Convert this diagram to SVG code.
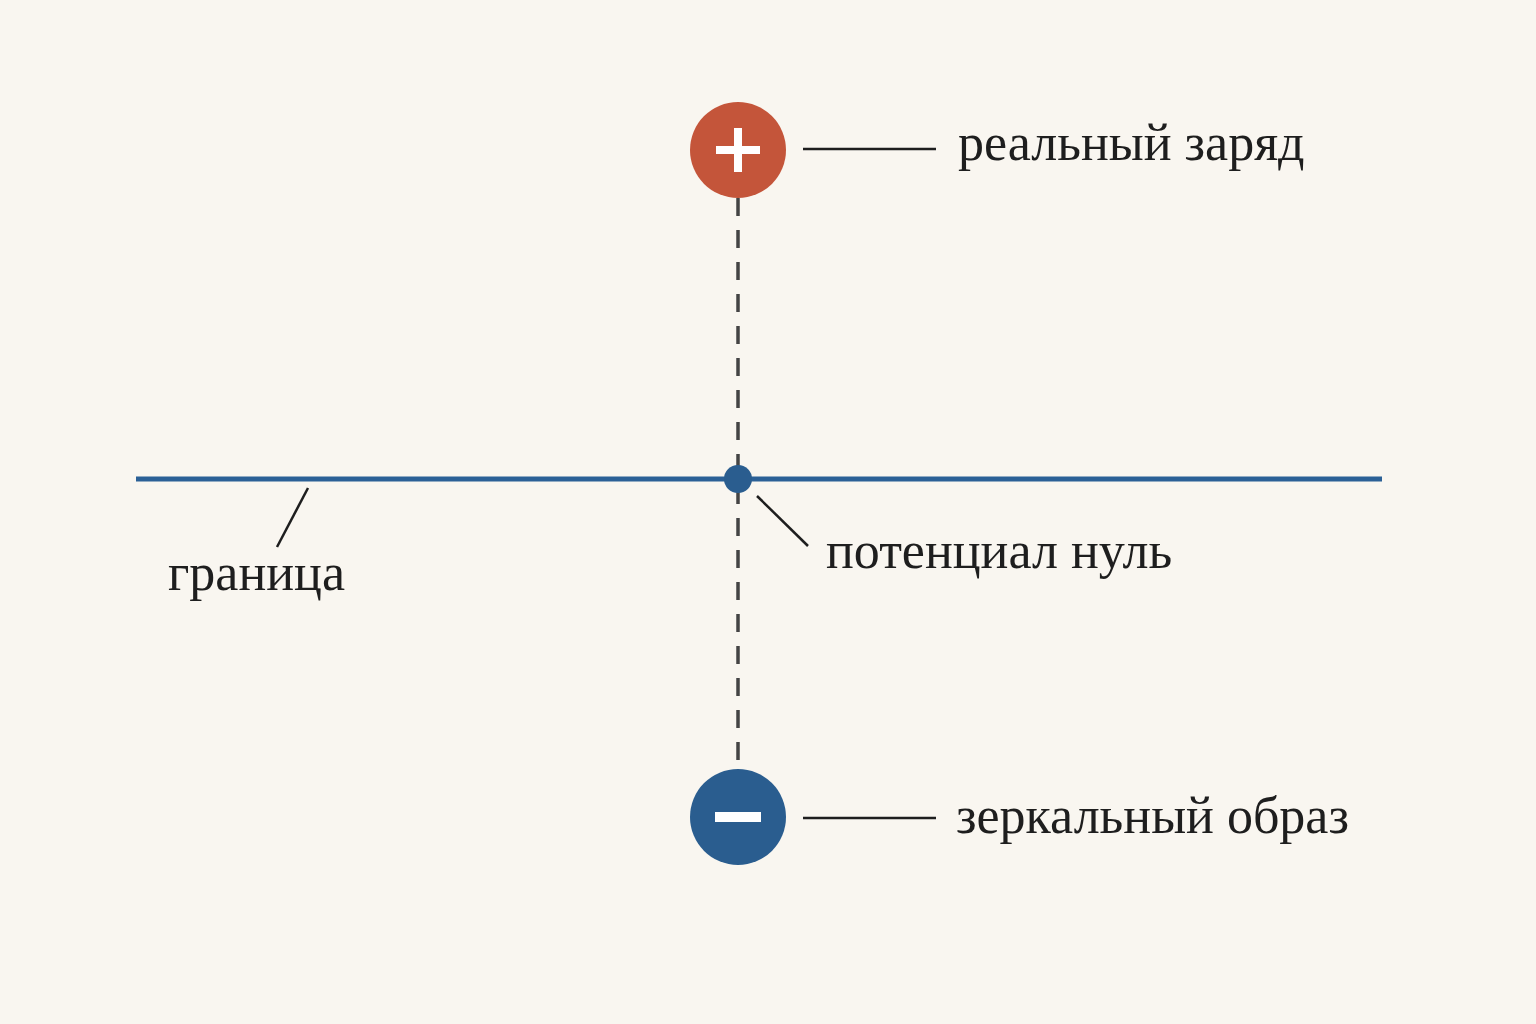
<svg xmlns="http://www.w3.org/2000/svg" width="1536" height="1024" viewBox="0 0 1536 1024">
<style>
.lbl{font-family:"Liberation Serif","Times New Roman",serif;font-size:52px;fill:#1e1e1e}
.lead{stroke:#1e1e1e;stroke-width:2.5;fill:none}
</style>
<rect width="1536" height="1024" fill="#f9f6f0"/>
<g id="connectors">
<line x1="738" y1="198" x2="738" y2="769" stroke="#444" stroke-width="3.5" stroke-dasharray="18 14"/>
<line class="lead" x1="803" y1="149" x2="936" y2="149"/>
<line class="lead" x1="803" y1="818" x2="936" y2="818"/>
<line class="lead" x1="757" y1="496" x2="808" y2="546"/>
<line class="lead" x1="308" y1="488" x2="277" y2="547"/>
</g>
<g id="boundary">
<line x1="136" y1="479" x2="1382" y2="479" stroke="#2b6096" stroke-width="5"/>
<text class="lbl" x="168" y="590">граница</text>
</g>
<g id="zero">
<circle cx="738" cy="479" r="14" fill="#2a5d8f"/>
<text class="lbl" x="826" y="568">потенциал нуль</text>
</g>
<g id="real">
<circle cx="738" cy="150" r="48" fill="#c4553a"/>
<path d="M716 150H760M738 128V172" stroke="#fff" stroke-width="8"/>
<text class="lbl" x="958" y="160">реальный заряд</text>
</g>
<g id="image">
<circle cx="738" cy="817" r="48" fill="#2a5d8f"/>
<rect x="715" y="812" width="46" height="10" fill="#fff"/>
<text class="lbl" x="956" y="833">зеркальный образ</text>
</g>
</svg>
